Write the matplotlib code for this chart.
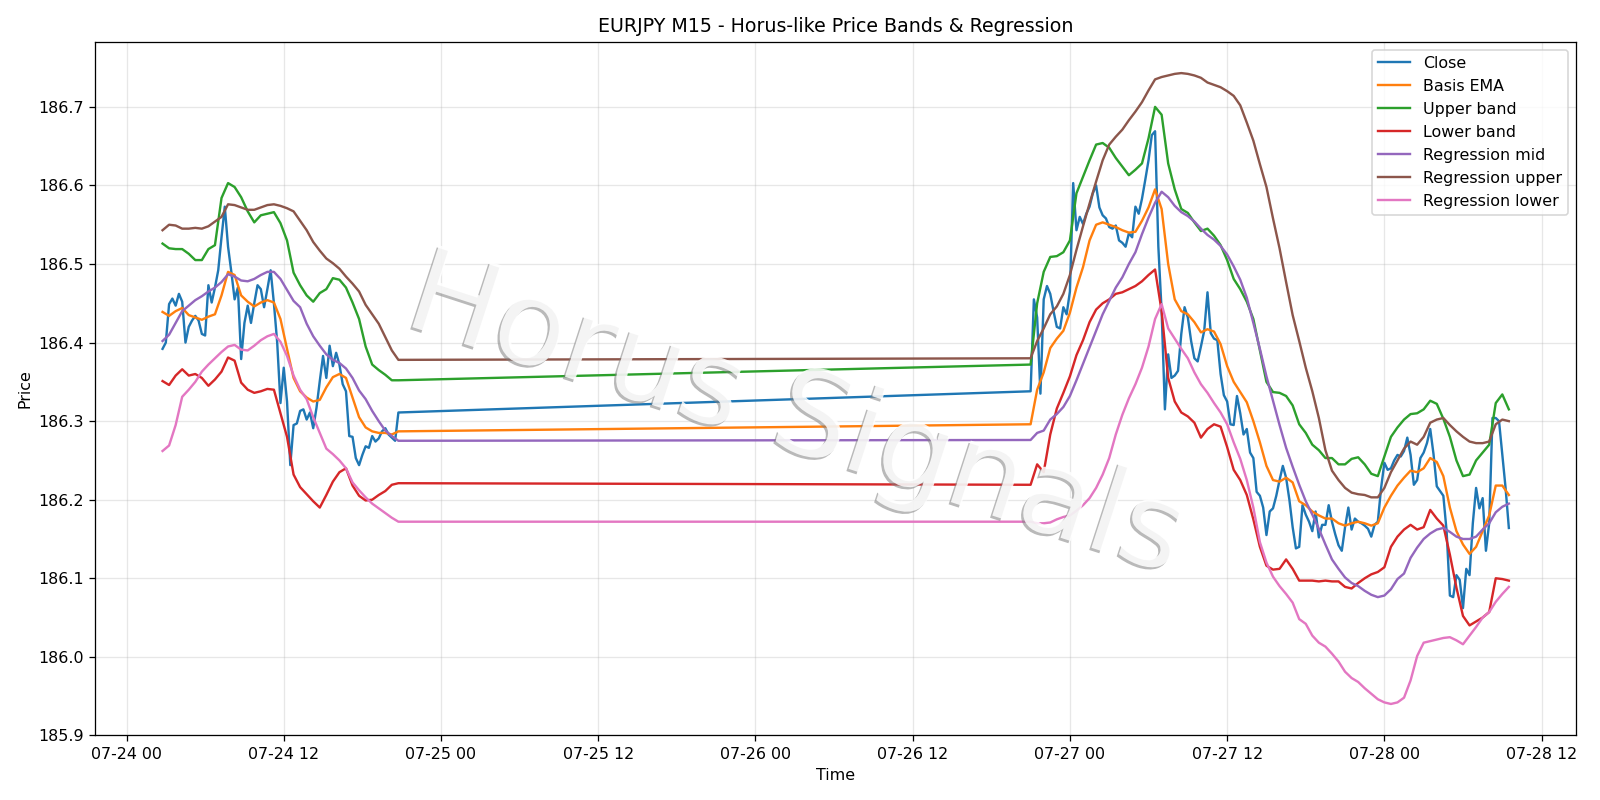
import numpy as np
import pandas as pd
import matplotlib
matplotlib.use("Agg")
import matplotlib.pyplot as plt
import matplotlib.dates as mdates
import matplotlib.patheffects as pe

# ---------------- data ----------------
# Close, 15-minute bars (Friday session, then Sunday evening onward)
close_a = [186.392, 186.400, 186.449, 186.456, 186.447, 186.462, 186.452, 186.400, 186.420, 186.428,
           186.434, 186.428, 186.411, 186.409, 186.473, 186.451, 186.470, 186.492, 186.534, 186.573,
           186.522, 186.490, 186.455, 186.470, 186.379, 186.425, 186.447, 186.425, 186.450, 186.473,
           186.468, 186.445, 186.468, 186.492, 186.450, 186.400, 186.323, 186.368, 186.325, 186.244,
           186.295, 186.297, 186.313, 186.315, 186.302, 186.311, 186.291, 186.317, 186.351, 186.383,
           186.355, 186.396, 186.370, 186.387, 186.372, 186.347, 186.338, 186.281, 186.280, 186.253,
           186.244, 186.257, 186.268, 186.266, 186.281, 186.274, 186.278, 186.287, 186.291, 186.283,
           186.279, 186.275, 186.311]
close_b = [186.338, 186.455, 186.432, 186.335, 186.455, 186.472, 186.462, 186.440, 186.420, 186.418,
           186.445, 186.436, 186.465, 186.603, 186.543, 186.560, 186.551, 186.564, 186.573, 186.590,
           186.600, 186.572, 186.562, 186.558, 186.547, 186.545, 186.549, 186.530, 186.527, 186.522,
           186.539, 186.534, 186.573, 186.564, 186.583, 186.607, 186.632, 186.664, 186.669, 186.522,
           186.440, 186.315, 186.385, 186.355, 186.358, 186.364, 186.411, 186.445, 186.432, 186.402,
           186.380, 186.376, 186.395, 186.415, 186.464, 186.412, 186.405, 186.403, 186.360, 186.333,
           186.325, 186.296, 186.295, 186.332, 186.310, 186.283, 186.290, 186.260, 186.253, 186.210,
           186.205, 186.190, 186.155, 186.185, 186.189, 186.205, 186.225, 186.243, 186.228, 186.200,
           186.165, 186.138, 186.140, 186.193, 186.181, 186.172, 186.160, 186.185, 186.152, 186.168,
           186.168, 186.193, 186.172, 186.156, 186.142, 186.135, 186.165, 186.190, 186.162, 186.176,
           186.172, 186.170, 186.167, 186.163, 186.153, 186.168, 186.172, 186.215, 186.247, 186.238,
           186.240, 186.250, 186.257, 186.255, 186.262, 186.279, 186.257, 186.219, 186.225, 186.253,
           186.260, 186.272, 186.290, 186.258, 186.217, 186.211, 186.205, 186.160, 186.078, 186.076,
           186.104, 186.098, 186.062, 186.112, 186.104, 186.170, 186.215, 186.189, 186.202, 186.135,
           186.170, 186.304, 186.304, 186.300, 186.257, 186.215, 186.164]

# Indicator lines, read every 30 minutes
ema_a = [186.439, 186.434, 186.440, 186.444, 186.435, 186.432, 186.429, 186.433, 186.436, 186.460,
         186.490, 186.486, 186.460, 186.452, 186.446, 186.451, 186.454, 186.451, 186.430, 186.392,
         186.355, 186.338, 186.330, 186.325, 186.327, 186.343, 186.356, 186.360, 186.355, 186.330,
         186.305, 186.292, 186.287, 186.285, 186.285, 186.283, 186.287]
ema_b = [186.296, 186.340, 186.362, 186.393, 186.405, 186.415, 186.438, 186.470, 186.496, 186.530,
         186.550, 186.553, 186.550, 186.547, 186.543, 186.540, 186.541, 186.555, 186.572, 186.595,
         186.570, 186.500, 186.455, 186.440, 186.436, 186.426, 186.413, 186.417, 186.414, 186.398,
         186.370, 186.350, 186.337, 186.324, 186.300, 186.273, 186.243, 186.225, 186.223, 186.228,
         186.222, 186.198, 186.193, 186.185, 186.180, 186.176, 186.176, 186.170, 186.167, 186.170,
         186.172, 186.170, 186.167, 186.170, 186.190, 186.205, 186.218, 186.228, 186.237, 186.235,
         186.240, 186.253, 186.248, 186.230, 186.190, 186.160, 186.143, 186.131, 186.140, 186.160,
         186.180, 186.218, 186.218, 186.206]

upper_a = [186.526, 186.520, 186.519, 186.519, 186.513, 186.505, 186.505, 186.519, 186.524, 186.584,
           186.603, 186.598, 186.585, 186.567, 186.553, 186.562, 186.564, 186.566, 186.552, 186.530,
           186.489, 186.473, 186.460, 186.452, 186.463, 186.468, 186.482, 186.480, 186.470, 186.451,
           186.430, 186.395, 186.372, 186.365, 186.359, 186.352, 186.352]
upper_b = [186.372, 186.450, 186.490, 186.509, 186.510, 186.515, 186.530, 186.590, 186.611, 186.632,
           186.652, 186.654, 186.648, 186.635, 186.624, 186.613, 186.620, 186.628, 186.660, 186.700,
           186.690, 186.628, 186.595, 186.570, 186.565, 186.553, 186.542, 186.545, 186.536, 186.524,
           186.505, 186.481, 186.468, 186.452, 186.430, 186.390, 186.350, 186.337, 186.336, 186.332,
           186.320, 186.296, 186.285, 186.270, 186.263, 186.253, 186.253, 186.245, 186.245, 186.252,
           186.254, 186.245, 186.233, 186.230, 186.255, 186.280, 186.292, 186.302, 186.309, 186.310,
           186.315, 186.326, 186.322, 186.303, 186.280, 186.250, 186.230, 186.232, 186.250, 186.260,
           186.270, 186.323, 186.334, 186.315]

lower_a = [186.351, 186.346, 186.358, 186.366, 186.358, 186.360, 186.355, 186.345, 186.353, 186.363,
           186.381, 186.377, 186.349, 186.340, 186.336, 186.338, 186.341, 186.340, 186.310, 186.280,
           186.232, 186.216, 186.207, 186.198, 186.190, 186.206, 186.223, 186.235, 186.240, 186.218,
           186.205, 186.199, 186.200, 186.206, 186.211, 186.219, 186.221]
lower_b = [186.219, 186.245, 186.235, 186.283, 186.316, 186.336, 186.357, 186.384, 186.403, 186.426,
           186.442, 186.450, 186.455, 186.462, 186.464, 186.468, 186.472, 186.478, 186.486, 186.493,
           186.440, 186.355, 186.325, 186.311, 186.306, 186.298, 186.279, 186.290, 186.296, 186.293,
           186.267, 186.238, 186.225, 186.206, 186.175, 186.140, 186.116, 186.111, 186.112, 186.124,
           186.112, 186.097, 186.097, 186.097, 186.096, 186.097, 186.096, 186.096, 186.089, 186.087,
           186.094, 186.100, 186.105, 186.108, 186.114, 186.140, 186.153, 186.162, 186.168, 186.162,
           186.165, 186.187, 186.176, 186.167, 186.130, 186.088, 186.052, 186.040, 186.045, 186.050,
           186.057, 186.100, 186.099, 186.097]

regmid_a = [186.402, 186.410, 186.425, 186.440, 186.447, 186.454, 186.459, 186.465, 186.470, 186.477,
            186.487, 186.484, 186.479, 186.478, 186.481, 186.486, 186.490, 186.490, 186.481, 186.467,
            186.453, 186.445, 186.424, 186.408, 186.396, 186.385, 186.378, 186.374, 186.367, 186.355,
            186.339, 186.328, 186.313, 186.300, 186.288, 186.281, 186.275]
regmid_b = [186.276, 186.285, 186.288, 186.302, 186.309, 186.318, 186.332, 186.352, 186.373, 186.394,
            186.415, 186.436, 186.453, 186.470, 186.483, 186.500, 186.515, 186.538, 186.559, 186.578,
            186.592, 186.585, 186.574, 186.566, 186.561, 186.554, 186.545, 186.537, 186.531, 186.523,
            186.512, 186.497, 186.480, 186.457, 186.425, 186.392, 186.357, 186.326, 186.295, 186.266,
            186.242, 186.219, 186.198, 186.181, 186.163, 186.143, 186.124, 186.112, 186.101, 186.094,
            186.090, 186.084, 186.079, 186.076, 186.078, 186.086, 186.099, 186.106, 186.126, 186.139,
            186.150, 186.157, 186.162, 186.164, 186.159, 186.153, 186.150, 186.150, 186.153, 186.162,
            186.170, 186.184, 186.191, 186.195]

regup_a = [186.543, 186.550, 186.549, 186.545, 186.545, 186.546, 186.545, 186.548, 186.554, 186.560,
           186.576, 186.575, 186.572, 186.569, 186.569, 186.572, 186.575, 186.576, 186.574, 186.571,
           186.567, 186.555, 186.543, 186.528, 186.517, 186.507, 186.501, 186.494, 186.484, 186.475,
           186.465, 186.448, 186.436, 186.424, 186.407, 186.390, 186.378]
regup_b = [186.380, 186.402, 186.418, 186.436, 186.446, 186.462, 186.486, 186.518, 186.548, 186.577,
           186.605, 186.632, 186.652, 186.662, 186.671, 186.683, 186.694, 186.706, 186.721, 186.735,
           186.738, 186.740, 186.742, 186.743, 186.742, 186.740, 186.737, 186.731, 186.728, 186.725,
           186.720, 186.714, 186.702, 186.680, 186.657, 186.627, 186.598, 186.558, 186.520, 186.477,
           186.435, 186.402, 186.368, 186.338, 186.304, 186.263, 186.237, 186.225, 186.215, 186.209,
           186.207, 186.206, 186.203, 186.203, 186.215, 186.235, 186.250, 186.265, 186.274, 186.270,
           186.280, 186.298, 186.302, 186.304, 186.295, 186.287, 186.280, 186.274, 186.272, 186.272,
           186.274, 186.296, 186.302, 186.300]

reglo_a = [186.262, 186.269, 186.295, 186.331, 186.340, 186.350, 186.363, 186.372, 186.380, 186.388,
           186.395, 186.397, 186.391, 186.390, 186.396, 186.403, 186.408, 186.411, 186.401, 186.383,
           186.358, 186.340, 186.328, 186.305, 186.285, 186.265, 186.258, 186.250, 186.240, 186.222,
           186.212, 186.203, 186.195, 186.189, 186.183, 186.177, 186.172]
reglo_b = [186.172, 186.170, 186.170, 186.171, 186.175, 186.178, 186.180, 186.186, 186.193, 186.202,
           186.215, 186.232, 186.253, 186.283, 186.308, 186.329, 186.347, 186.368, 186.395, 186.430,
           186.449, 186.418, 186.405, 186.392, 186.380, 186.362, 186.347, 186.336, 186.323, 186.311,
           186.296, 186.273, 186.252, 186.225, 186.190, 186.146, 186.120, 186.102, 186.090, 186.080,
           186.069, 186.048, 186.042, 186.027, 186.018, 186.013, 186.004, 185.994, 185.981, 185.973,
           185.968, 185.960, 185.953, 185.946, 185.942, 185.940, 185.942, 185.948, 185.970, 186.001,
           186.018, 186.020, 186.022, 186.024, 186.025, 186.021, 186.016, 186.027, 186.038, 186.050,
           186.057, 186.070, 186.080, 186.089]

# ---------------- time axes ----------------
t_close = pd.date_range("2026-07-24 02:45", periods=len(close_a), freq="15min").append(
    pd.date_range("2026-07-26 21:00", periods=len(close_b), freq="15min"))
t_ind = pd.date_range("2026-07-24 02:45", periods=len(ema_a), freq="30min").append(
    pd.date_range("2026-07-26 21:00", periods=len(ema_b), freq="30min"))

series = [
    ("Basis EMA", ema_a + ema_b),
    ("Upper band", upper_a + upper_b),
    ("Lower band", lower_a + lower_b),
    ("Regression mid", regmid_a + regmid_b),
    ("Regression upper", regup_a + regup_b),
    ("Regression lower", reglo_a + reglo_b),
]

fig, ax = plt.subplots(figsize=(14, 7), dpi=1600 / 14)
ax.plot(t_close, close_a + close_b, label="Close", lw=1.5)
for name, vals in series:
    ax.plot(t_ind, vals, label=name, lw=1.5)

ax.set_title("EURJPY M15 - Horus-like Price Bands & Regression")
ax.set_xlabel("Time")
ax.set_ylabel("Price")
ax.grid(True, alpha=0.3)
ax.legend(loc="upper right")
ax.xaxis.set_major_locator(mdates.HourLocator(byhour=[0, 12]))
ax.xaxis.set_major_formatter(mdates.DateFormatter("%m-%d %H"))
ax.set_ylim(185.9, 186.783)

fig.tight_layout()

fig.text(0.4975, 0.478, "Horus Signals", fontsize=74.5, color="white", alpha=0.85,
         rotation=-18, ha="center", va="center", zorder=10,
         path_effects=[pe.SimplePatchShadow(offset=(-1.4, -1.4), shadow_rgbFace="0.5", alpha=0.55),
                       pe.Normal()])

fig.savefig("out.png", dpi=1600 / 14)
